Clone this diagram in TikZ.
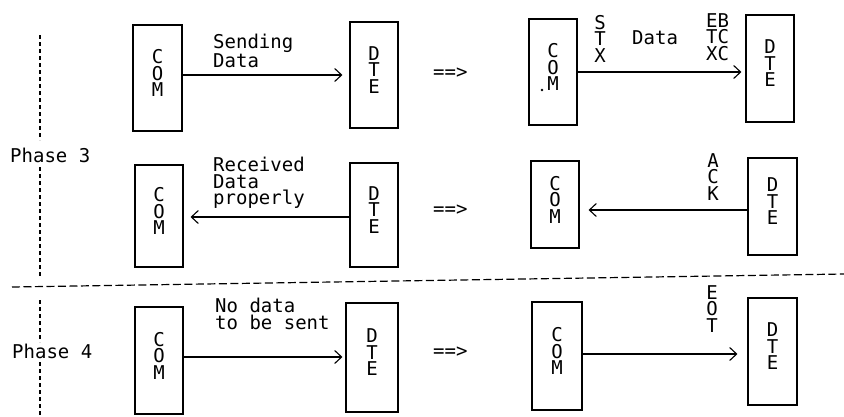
\documentclass[tikz,border=0pt]{standalone}
\usepackage{fontspec}
\setmonofont{DejaVu Sans Mono}
\usetikzlibrary{arrows.meta}
\newcommand\lowstrut{\rule[-10pt]{0pt}{10pt}}
\begin{document}
\begin{tikzpicture}[x=1pt,y=-1pt,
  every node/.style={font=\ttfamily\fontsize{19}{16.5}\selectfont, inner sep=0pt},
  box/.style={draw, line width=1.1pt, align=center},
  lbl/.style={align=left, anchor=north west},
  stk/.style={align=center, anchor=north},
  arr/.style={line width=1.1pt, -{Straight Barb[length=7pt,width=13pt,line width=1.1pt]}},
  hdash/.style={line width=1.2pt, dash pattern=on 8pt off 3.5pt},
  vdash/.style={line width=1.1pt, dash pattern=on 4pt off 3pt}
]
\useasboundingbox (0,0) rectangle (844,416);

% ---------- Row A ----------
\node[box, minimum width=49pt, minimum height=106pt] (com1) at (157.5,78) {C\\O\\M\lowstrut};
\node[box, minimum width=48pt, minimum height=106pt] (dte1) at (374,75) {D\\T\\E\lowstrut};
\node[box, minimum width=48pt, minimum height=106pt] (com2) at (553,72) {C\\O\\M\lowstrut};
\node[box, minimum width=48pt, minimum height=107pt] (dte2) at (770,68.5) {D\\T\\E\lowstrut};
\fill (542,90) circle (1.3pt);

\draw[arr, shorten >=7pt] (com1.east |- 0,75) -- (dte1.west |- 0,75);
\draw[arr, shorten >=4pt] (com2.east |- 0,72) -- (dte2.west |- 0,72);

\node[lbl] (l1) at (213,34) {Sending\\Data};
\node[anchor=west] (eq1) at (433,73) {==>};
\node[stk] (stx) at (600,15) {S\\T\\X};
\node[lbl] (dat) at (632,30) {Data};
\node[lbl] (etx) at (706,13) {EB\\TC\\XC};

% ---------- Row B ----------
\node[box, minimum width=48pt, minimum height=102pt] (com3) at (159,216) {C\\O\\M\lowstrut};
\node[box, minimum width=48pt, minimum height=104pt] (dte3) at (374,215) {D\\T\\E\lowstrut};
\node[box, minimum width=48pt, minimum height=87pt] (com4) at (555,204.5) {C\\O\\M\lowstrut};
\node[box, minimum width=49pt, minimum height=97pt] (dte4) at (772.5,206.5) {D\\T\\E\lowstrut};

\draw[arr, shorten >=7pt] (dte3.west |- 0,217) -- (com3.east |- 0,217);
\draw[arr, shorten >=9pt] (dte4.west |- 0,210) -- (com4.east |- 0,210);

\node[lbl] (l2) at (213,157) {Received\\Data\\properly};
\node[anchor=west] (eq2) at (433,210) {==>};
\node[stk] (ack) at (713,153) {A\\C\\K};

% ---------- Row C ----------
\node[box, minimum width=48pt, minimum height=107pt] (com5) at (159,360.5) {C\\O\\M\lowstrut};
\node[box, minimum width=52pt, minimum height=109pt] (dte5) at (372,357.5) {D\\T\\E\lowstrut};
\node[box, minimum width=50pt, minimum height=108pt] (com6) at (557,356) {C\\O\\M\lowstrut};
\node[box, minimum width=49pt, minimum height=107pt] (dte6) at (772.5,351.5) {D\\T\\E\lowstrut};

\draw[arr, shorten >=3pt] (com5.east |- 0,357) -- (dte5.west |- 0,357);
\draw[arr, shorten >=10pt] (com6.east |- 0,354) -- (dte6.west |- 0,354);

\node[lbl] (l3) at (215,298) {No data\\to be sent};
\node[anchor=west] (eq3) at (433,352) {==>};
\node[stk] (eot) at (712,285) {E\\O\\T};

% ---------- Phases and separators ----------
\node[anchor=base west] (ph3) at (10,162) {Phase 3};
\node[anchor=base west] (ph4) at (12,358) {Phase 4};

\draw[hdash] (12,287) -- (844,274);
\draw[vdash] (40,35) -- (40,140);
\draw[vdash] (40,167) -- (40,278);
\draw[vdash] (40,300) -- (40,342);
\draw[vdash] (40,362) -- (40,416);
\end{tikzpicture}
\end{document}
